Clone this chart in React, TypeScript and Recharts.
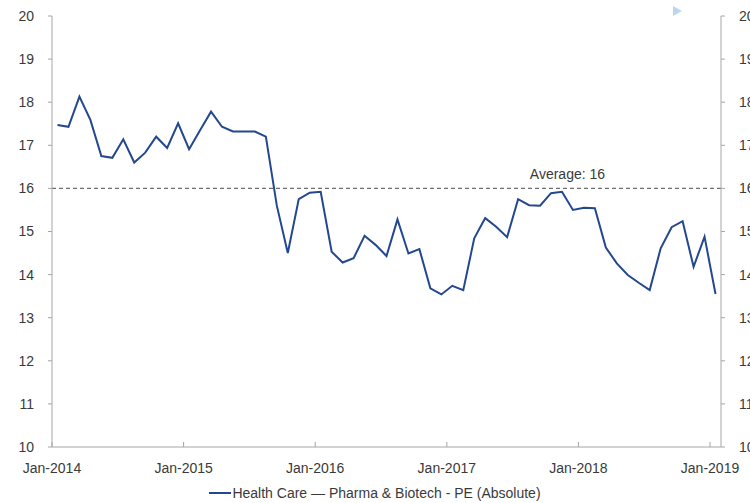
import React from 'react';
import {
  LineChart,
  Line,
  XAxis,
  YAxis,
  ReferenceLine,
  ReferenceDot,
  Legend,
} from 'recharts';

// monthly PE, Jan-2014 .. Jan-2019
const peValues = [
  17.47, 17.43, 18.13, 17.59, 16.75, 16.71, 17.14, 16.6, 16.83, 17.2, 16.94, 17.51,
  16.91, 17.35, 17.78, 17.43, 17.32, 17.32, 17.32, 17.2, 15.6, 14.5, 15.75, 15.9,
  15.92, 14.53, 14.28, 14.38, 14.9, 14.69, 14.43, 15.28, 14.49, 14.59, 13.68, 13.54,
  13.74, 13.64, 14.84, 15.31, 15.11, 14.87, 15.75, 15.61, 15.6, 15.89, 15.92, 15.5,
  15.55, 15.54, 14.63, 14.26, 13.99, 13.81, 13.64, 14.61, 15.1, 15.24, 14.18, 14.88,
  13.55,
];

const xTickLabels = ['Jan-2014', 'Jan-2015', 'Jan-2016', 'Jan-2017', 'Jan-2018', 'Jan-2019'];
const xTicks = [0, 12, 24, 36, 48, 60];
const yTicks = [10, 11, 12, 13, 14, 15, 16, 17, 18, 19, 20];
const averagePE = 16;
const seriesName = 'Health Care \u2014 Pharma & Biotech - PE (Absolute)';

const data = peValues.map((v, i) => ({ m: i + 0.5, pe: v }));

const LINE = '#23488f';
const AXIS = '#a6a6a6';
const TEXT = '#3a3a3a';
const FONT = '"Liberation Sans", Arial, sans-serif';

function XTick(props: any) {
  const { x, y, payload, index } = props;
  const axisY = y - 16;
  return (
    <g>
      <line x1={x} x2={x} y1={axisY - 5} y2={axisY} stroke={AXIS} />
      <text x={x} y={y} dy="0.71em" textAnchor="middle" fill={TEXT} fontSize={14}>
        {xTickLabels[index] ?? payload.value}
      </text>
    </g>
  );
}

function LegendContent() {
  return (
    <div
      style={{
        display: 'flex',
        justifyContent: 'center',
        alignItems: 'center',
        height: 20,
        fontSize: 14,
        color: TEXT,
      }}
    >
      <span style={{ display: 'inline-block', width: 22, height: 2, background: LINE, marginRight: 1 }} />
      <span>{seriesName}</span>
    </div>
  );
}

export default function App() {
  return (
    <div style={{ position: 'relative', width: 750, height: 503, fontFamily: FONT }}>
      <style>{'body{margin:0}'}</style>
      <LineChart
        width={750}
        height={503}
        data={data}
        margin={{ top: 16, right: 0, left: 0, bottom: 0 }}
        style={{ fontFamily: FONT }}
      >
        <XAxis
          dataKey="m"
          type="number"
          domain={[0, 61]}
          ticks={xTicks}
          interval={0}
          height={36}
          stroke={AXIS}
          tickLine={false}
          tickSize={0}
          tickMargin={16}
          tick={<XTick />}
        />
        <YAxis
          yAxisId="left"
          domain={[10, 20]}
          ticks={yTicks}
          interval={0}
          width={52}
          stroke={AXIS}
          tickSize={4}
          tickMargin={14}
          tick={{ fill: TEXT, fontSize: 14 }}
        />
        <YAxis
          yAxisId="right"
          orientation="right"
          domain={[10, 20]}
          ticks={yTicks}
          interval={0}
          width={29}
          stroke={AXIS}
          tickSize={4}
          tickMargin={14}
          tick={{ fill: TEXT, fontSize: 14 }}
        />
        <ReferenceLine
          yAxisId="left"
          y={averagePE}
          stroke="#6e6e6e"
          strokeWidth={1.2}
          strokeDasharray="4 3"
        />
        <ReferenceDot
          yAxisId="left"
          x={47}
          y={averagePE}
          r={0}
          stroke="none"
          fill="none"
          label={{ value: 'Average: 16', position: 'top', offset: 9, fill: TEXT, fontSize: 14 }}
        />
        {/* same series on the right axis, invisible, so that axis gets ticks */}
        <Line
          yAxisId="right"
          type="linear"
          dataKey="pe"
          stroke="none"
          dot={false}
          activeDot={false}
          legendType="none"
          isAnimationActive={false}
        />
        <Line
          yAxisId="left"
          type="linear"
          dataKey="pe"
          name={seriesName}
          stroke={LINE}
          strokeWidth={2}
          dot={false}
          isAnimationActive={false}
        />
        <Legend
          verticalAlign="bottom"
          wrapperStyle={{ height: 20 }}
          content={<LegendContent />}
        />
      </LineChart>
      <div
        style={{
          position: 'absolute',
          left: 673,
          top: 6,
          width: 0,
          height: 0,
          borderTop: '5px solid transparent',
          borderBottom: '5px solid transparent',
          borderLeft: '9px solid #bcd6ef',
        }}
      />
    </div>
  );
}
